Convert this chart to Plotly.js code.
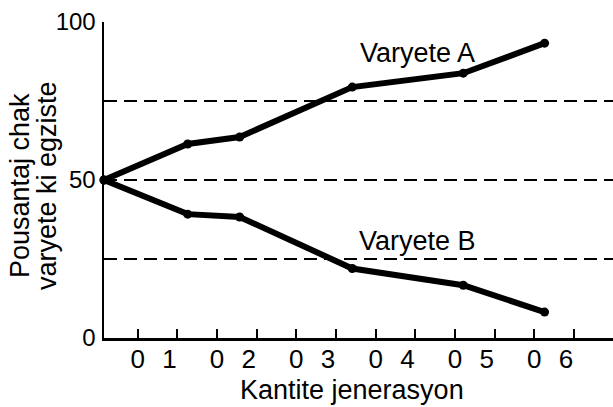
<!DOCTYPE html>
<html>
<head>
<meta charset="utf-8">
<script src="https://cdn.plot.ly/plotly-3.0.1.min.js"></script>
<style>html,body{margin:0;padding:0;background:#fff;}#chart{width:613px;height:407px;}</style>
</head>
<body>
<div id="chart"></div>
<script>
// ---- data ----
var genX      = [0.15, 2.26, 3.57, 6.41, 9.21, 11.26];
var varyeteA  = [50, 61.4, 63.6, 79.4, 83.8, 93.3];
var varyeteB  = [50, 39.2, 38.3, 22.0, 16.7, 8.2];
var refLevels = [75, 50, 25];
var tickPos   = [1, 2, 3, 4, 5, 6, 7, 8, 9, 10, 11, 12];
var tickText  = ['0', '1', '0', '2', '0', '3', '0', '4', '0', '5', '0', '6'];
var yTicks    = [0, 50, 100];
var labelA    = 'Varyete A';
var labelB    = 'Varyete B';
var xTitle    = 'Kantite jenerasyon';
var yTitle1   = 'Pousantaj chak';
var yTitle2   = 'varyete ki egziste';

var FONT = '"Liberation Sans", Arial, sans-serif';
var xRange = [0.15, 12.985];

var traces = [];
refLevels.forEach(function (v) {
  traces.push({
    x: xRange, y: [v, v], mode: 'lines', type: 'scatter', hoverinfo: 'skip',
    line: {color: '#000', width: 2, dash: '13px,7px'}, showlegend: false
  });
});
[varyeteA, varyeteB].forEach(function (ys) {
  traces.push({
    x: genX, y: ys, mode: 'lines+markers', type: 'scatter', cliponaxis: false,
    line: {color: '#000', width: 6}, marker: {color: '#000', size: 9},
    showlegend: false
  });
});
// dummy trace on second x axis so its labels are drawn
traces.push({x: [xRange[0]], y: [0], xaxis: 'x2', mode: 'markers',
  marker: {opacity: 0}, showlegend: false, hoverinfo: 'skip'});

var labelShift = tickPos.map(function (t, i) { return i % 2 ? t - 0.2 : t; });

var layout = {
  width: 613, height: 407,
  margin: {l: 104, r: 0, t: 22, b: 69, pad: 0},
  paper_bgcolor: '#fff', plot_bgcolor: '#fff',
  font: {family: FONT, color: '#000', size: 24},
  xaxis: {
    range: xRange, showgrid: false, zeroline: false,
    showline: true, linecolor: '#000', linewidth: 2.5,
    tickmode: 'array', tickvals: tickPos, ticks: 'inside', ticklen: 9,
    tickwidth: 2, tickcolor: '#000', showticklabels: false
  },
  xaxis2: {
    range: xRange, overlaying: 'x', anchor: 'y', side: 'bottom',
    showgrid: false, zeroline: false, showline: false,
    tickmode: 'array', tickvals: labelShift, ticktext: tickText,
    ticks: '', ticklabelstandoff: 3, tickfont: {size: 26}
  },
  yaxis: {
    range: [0, 100], showgrid: false, zeroline: false,
    showline: true, linecolor: '#000', linewidth: 2.5,
    tickmode: 'array', tickvals: yTicks, ticks: 'inside', ticklen: 10,
    tickwidth: 2, tickcolor: '#000', tickfont: {size: 24}, ticklabelstandoff: 1
  },
  annotations: [
    {text: labelA, showarrow: false, font: {size: 27}},
    {text: labelB, showarrow: false, font: {size: 27}},
    {text: yTitle1, showarrow: false, textangle: -90, font: {size: 27}},
    {text: yTitle2, showarrow: false, textangle: -90, font: {size: 27}},
    {text: xTitle, showarrow: false, font: {size: 27}}
  ]
};

// place annotations in pixel terms via paper coordinates
var pw = 613 - 104, ph = 407 - 22 - 69;
function px2paperX(p) { return (p - 104) / pw; }
function px2paperY(p) { return (407 - 69 - p) / ph; }
var annPos = [[417, 53], [417, 241], [20, 186], [47, 186], [352, 390]];
layout.annotations.forEach(function (a, i) {
  a.xref = 'paper'; a.yref = 'paper';
  a.x = px2paperX(annPos[i][0]); a.y = px2paperY(annPos[i][1]);
  a.xanchor = 'center'; a.yanchor = 'middle';
});

Plotly.newPlot('chart', traces, layout, {displayModeBar: false, staticPlot: true});
</script>
</body>
</html>
